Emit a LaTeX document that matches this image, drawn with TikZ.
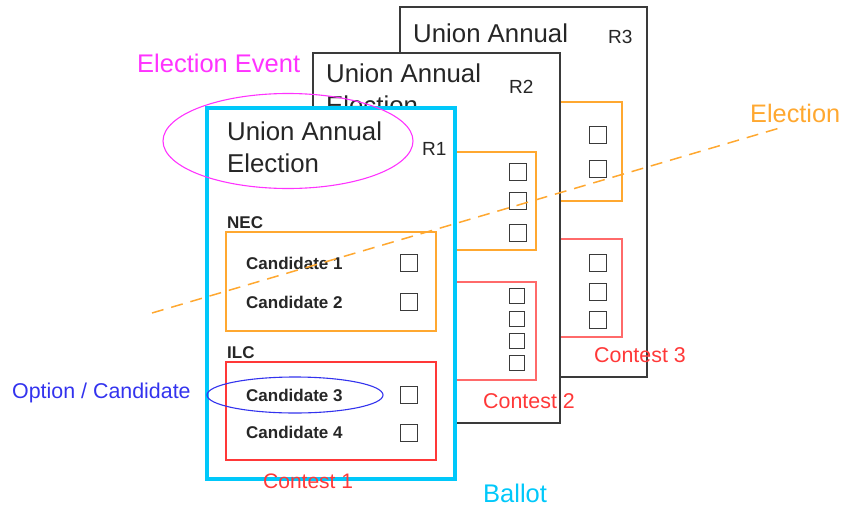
\documentclass[tikz,border=0pt]{standalone}
\usepackage{fontspec}
\setmainfont{Liberation Sans}
\usetikzlibrary{shapes.geometric}
\definecolor{cyanB}{HTML}{00C8FA}
\definecolor{magE}{HTML}{FF33FF}
\definecolor{orgC}{HTML}{FFA830}
\definecolor{redC}{HTML}{FF3838}
\definecolor{redL}{HTML}{FF6A6A}
\definecolor{bluO}{HTML}{3333EE}
\definecolor{frame}{HTML}{3A3A3A}
\tikzset{
  txt/.style={inner sep=0pt, anchor=base west},
  big/.style={txt, font=\fontsize{25.8}{30}\selectfont, text=black!85},
  rlab/.style={txt, font=\fontsize{19}{22}\selectfont, text=black!85},
  lab/.style={txt, font=\fontsize{21.4}{25}\selectfont},
  cand/.style={txt, font=\bfseries\fontsize{17}{20}\selectfont, text=black!85},
  chk/.style={draw=frame, line width=1.3pt, minimum size=16.5pt, inner sep=0pt, fill=white},
  chks/.style={chk, minimum size=15.5pt},
  sheet/.style={draw=frame, line width=1.2pt, fill=white},
  obox/.style={draw=orgC, line width=1.2pt},
  rbox/.style={draw=redC, line width=1.2pt},
  rboxl/.style={draw=redL, line width=1.2pt},
}
\begin{document}
\begin{tikzpicture}[x=1pt,y=-1pt]
\useasboundingbox (0,0) rectangle (843,506);
% ---- R3 ----
\draw[sheet] (400,7) rectangle (647,377);
\node[big] (u3) at (413,42) {Union Annual};
\node[rlab] (r3) at (608,43) {R3};
\draw[obox] (420,102) rectangle (622,201);
\draw[rboxl] (420,239) rectangle (622,337);
\node[chk] (c3a) at (598,135) {};
\node[chk] (c3b) at (598,169) {};
\node[chk] (c3c) at (598,263) {};
\node[chk] (c3d) at (598,292) {};
\node[chk] (c3e) at (598,320) {};
\node[lab, text=redC] (ct3) at (594,362) {Contest 3};
% ---- R2 ----
\draw[sheet] (313,53) rectangle (560,423);
\node[big] (u2) at (326,82) {Union Annual};
\node[big] (el2) at (326,114) {Election};
\node[rlab] (r2) at (509,93) {R2};
\draw[obox] (330,152) rectangle (536,250);
\draw[rboxl] (330,282) rectangle (536,380);
\node[chk] (c2a) at (518,172) {};
\node[chk] (c2b) at (518,201) {};
\node[chk] (c2c) at (518,233) {};
\node[chks] (c2d) at (517,296) {};
\node[chks] (c2e) at (517,319) {};
\node[chks] (c2f) at (517,341) {};
\node[chks] (c2g) at (517,363) {};
\node[lab, text=redC] (ct2) at (483,408) {Contest 2};
% ---- R1 ----
\draw[draw=cyanB, line width=4pt, fill=white] (207,108) rectangle (455,479);
\node[big] (u1) at (227,140) {Union Annual};
\node[big] (el1) at (227,172) {Election};
\node[rlab] (r1) at (422,155) {R1};
\node[cand] (nec) at (227,228) {NEC};
\draw[obox] (226,232) rectangle (436,331);
\node[cand] (cd1) at (246,269) {Candidate 1};
\node[cand] (cd2) at (246,308) {Candidate 2};
\node[chk] (k1) at (409,263) {};
\node[chk] (k2) at (409,302) {};
\node[cand] (ilc) at (227,358) {ILC};
\draw[rbox] (226,362) rectangle (436,460);
\node[cand] (cd3) at (246,401) {Candidate 3};
\node[cand] (cd4) at (246,438) {Candidate 4};
\node[chk] (k3) at (409,395) {};
\node[chk] (k4) at (409,433) {};
\node[lab, text=redC, font=\fontsize{21}{25}\selectfont] (ct1) at (263,488) {Contest 1};
% ---- annotations ----
\node[draw=magE, line width=1.1pt, ellipse, minimum width=250pt, minimum height=95pt, inner sep=0pt] (ee) at (288,141) {};
\node[lab, text=magE, font=\fontsize{25.5}{29}\selectfont] (eel) at (137,72) {Election Event};
\node[draw=bluO, line width=1.1pt, ellipse, minimum width=176pt, minimum height=36pt, inner sep=0pt] (oc) at (295,395) {};
\node[lab, text=bluO] (ocl) at (12,398) {Option / Candidate};
\node[lab, text=cyanB, font=\fontsize{25.5}{29}\selectfont] (bal) at (483,502) {Ballot};
\node[lab, text=orgC, font=\fontsize{25.3}{29}\selectfont] (ell) at (750,122) {Election};
\coordinate (d1) at (152,313);
\coordinate (d2) at (783,127);
\draw[orgC, line width=1.5pt, dash pattern=on 12pt off 8pt] (d1) -- (d2);
\end{tikzpicture}
\end{document}
